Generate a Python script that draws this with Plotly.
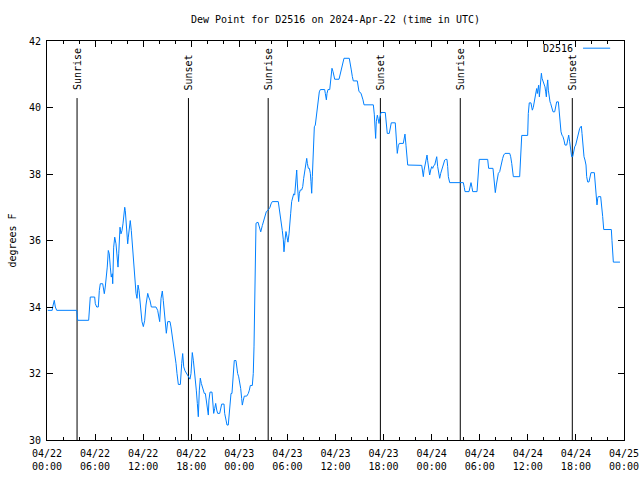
import pandas as pd
import plotly.graph_objects as go

# hours since 2024-04-22 00:00 UTC, dew point (degrees F)
hours = [0.09, 0.65, 0.71, 0.91, 1.04, 1.21, 3.71, 3.83, 5.20, 5.26, 5.40, 5.95, 6.03, 6.20, 6.40, 6.53, 6.65, 6.95, 7.03, 7.15,
         7.27, 7.40, 7.52, 7.65, 7.77, 7.90, 8.02, 8.15, 8.20, 8.32, 8.45, 8.61, 8.73, 8.86, 8.95, 9.02, 9.11, 9.23, 9.36, 9.48,
         9.61, 9.70, 9.77, 9.86, 9.98, 10.07, 10.15, 10.27, 10.39, 10.52, 10.61, 10.69, 10.86, 10.98, 11.11, 11.23, 11.36, 11.48, 11.60, 11.73,
         11.85, 12.02, 12.19, 12.35, 12.57, 12.69, 12.85, 13.02, 13.60, 13.81, 13.94, 14.06, 14.23, 14.39, 14.51, 14.64, 14.76, 14.89, 15.06,
         15.35, 15.47, 15.60, 15.72, 15.85, 15.97, 16.10, 16.22, 16.35, 16.39, 16.64, 16.68, 16.81, 16.93, 17.01, 17.06, 17.22, 17.43, 17.59, 17.84,
         17.97, 18.05, 18.13, 18.26, 18.38, 18.51, 18.63, 18.76, 18.88, 19.01, 19.13, 19.26, 19.38, 19.51, 19.63, 19.76, 19.88, 20.00, 20.13, 20.21,
         20.34, 20.59, 20.67, 20.80, 20.93, 21.05, 21.18, 21.30, 21.55, 21.67, 21.80, 22.09, 22.17, 22.34, 22.46, 22.62, 22.71, 22.84, 22.96, 23.08,
         23.17, 23.25, 23.37, 23.58, 23.67, 23.79, 23.92, 24.04, 24.17, 24.29, 24.37, 24.50, 24.62, 24.92, 25.12, 25.25, 25.37, 25.62, 25.74, 25.83,
         25.92, 25.99, 26.08, 26.33, 26.42, 26.54, 26.67, 26.87, 26.99, 27.12, 27.24, 27.37, 27.62, 27.83, 27.95, 28.11, 28.86, 28.99, 29.11, 29.24,
         29.36, 29.49, 29.57, 29.70, 29.82, 29.95, 30.07, 30.20, 30.32,
         30.41, 30.53, 30.66, 30.78, 30.91, 31.03, 31.16, 31.24, 31.32, 31.40, 31.49, 31.61, 31.78, 31.91, 32.03, 32.16, 32.28, 32.41, 32.49, 32.61,
         32.74, 32.86, 32.94, 33.03, 33.11, 33.23, 33.36, 33.48, 33.61, 33.73, 33.86, 33.98, 34.11, 34.65, 34.73, 34.86, 34.94, 35.06, 35.28, 35.35,
         35.48, 35.56, 35.69, 35.77, 35.90, 36.44, 36.56, 36.69, 36.81, 36.94, 37.06, 37.72, 37.85, 37.97, 38.10, 38.22, 38.72, 38.85, 38.93, 39.18,
         39.31, 39.43, 39.56, 40.72, 40.84, 40.93, 41.01, 41.09, 41.22, 41.31, 41.43, 41.55, 41.68, 42.21, 42.34, 42.46, 42.71, 42.84, 42.96, 43.46,
         43.59, 43.71, 43.84, 43.96, 44.46, 44.55, 44.67, 44.80, 44.92, 45.01,
         46.76, 46.84, 46.96, 47.04, 47.17, 47.29, 47.42, 47.50, 47.63, 47.75, 47.88, 48.00, 48.13, 48.25, 48.38, 48.50, 48.63, 48.75, 48.88, 49.00,
         49.13, 49.25, 49.38, 49.50, 49.63, 49.75, 49.91, 50.00, 50.08, 50.25, 51.95, 52.07, 52.16, 52.66, 52.78, 52.91, 53.03, 53.12, 53.66, 53.74,
         53.82, 53.94, 54.99, 55.11, 55.65, 55.74, 55.86, 55.94, 56.07, 56.19, 56.32, 56.49, 56.61, 56.74, 56.86, 56.99, 57.15, 57.74, 57.86, 57.99,
         58.07, 58.19, 58.98, 59.06, 59.15, 59.24, 59.65,
         59.98, 60.06, 60.18, 60.39, 60.48, 60.56, 60.68, 60.77, 60.89, 61.02, 61.10, 61.18, 61.27, 61.35, 61.44, 61.52, 61.60, 61.69, 61.77, 61.89,
         62.02, 62.14, 62.23, 62.31, 62.39, 62.48, 62.56, 62.64, 62.77, 62.85, 62.98, 63.14, 63.35, 63.48, 63.60, 63.81, 63.89, 64.01, 64.14, 64.26,
         64.39, 64.51, 64.64, 64.85, 64.97, 65.10, 65.22, 65.35, 65.47, 65.60, 65.72, 65.85, 65.97, 66.10, 66.22, 66.35, 66.47, 66.60, 66.68, 66.76,
         66.88, 67.01, 67.13, 67.26, 67.34, 67.47, 67.63, 67.76, 67.88, 68.30, 68.42, 68.51, 68.63, 68.72, 68.79, 69.09, 69.21, 69.34, 69.47, 70.42,
         70.50, 70.59, 70.67, 71.50]

dew_point = [33.9, 33.9, 34.0, 34.2, 34.0, 33.9, 33.9, 33.6, 33.6, 33.8, 34.3, 34.3, 34.1, 34.0, 34.0, 34.5, 34.7, 34.7, 34.5, 34.4,
             34.6, 34.9, 35.2, 35.7, 35.6, 35.2, 34.9, 35.0, 34.7, 35.8, 36.1, 35.9, 35.4, 35.2, 35.6, 36.2, 36.4, 36.2, 36.3, 36.5,
             36.8, 37.0, 36.9, 36.5, 36.3, 35.9, 36.1, 36.4, 36.6, 36.3, 36.0, 35.5, 35.2, 34.81, 34.41, 34.26, 34.66, 34.5, 34.16, 33.86,
             33.56, 33.41, 33.6, 34.06, 34.41, 34.3, 34.2, 34.0, 34.0, 33.9, 33.75, 33.56, 34.26, 34.48, 34.2, 33.81, 33.41, 33.21, 33.56,
             33.56, 33.4, 33.2, 32.96, 32.7, 32.5, 32.3, 32.0, 31.75, 31.67, 31.67, 32.0, 32.3, 32.6, 32.4, 32.2, 32.08, 32.0, 31.92, 31.83,
             32.0, 32.3, 32.63, 32.4, 32.16, 31.9, 31.5, 31.1, 30.7, 31.5, 31.86, 31.7, 31.6, 31.5, 31.4, 31.4, 31.2, 30.9, 30.75, 31.2,
             31.44, 31.44, 31.2, 30.8, 30.95, 31.1, 30.9, 30.8, 30.8, 30.95, 31.08, 31.08, 30.8, 30.6, 30.45, 30.45, 30.8, 31.15, 31.4, 31.4,
             31.8, 32.16, 32.39, 32.39, 32.2, 32.0, 31.9, 31.75, 31.55, 31.25, 31.05, 31.2, 31.32, 31.32, 31.4, 31.5, 31.64, 31.64, 32.0, 32.8,
             34.0, 35.6, 36.52, 36.55, 36.45, 36.35, 36.26, 36.45, 36.55, 36.67, 36.8, 36.87, 36.92, 37.0, 37.1, 37.17, 37.17, 36.97, 36.72, 36.47,
             36.3, 36.02, 35.66, 36.0, 36.27, 36.1, 35.95, 36.2, 36.45,
             36.82, 37.17, 37.32, 37.4, 37.37, 37.82, 38.12, 37.7, 37.42, 37.17, 37.42, 37.52, 37.52, 37.62, 37.87, 38.12, 38.32, 38.47, 38.32, 38.17,
             38.17, 38.02, 37.77, 37.42, 37.92, 38.92, 39.42, 39.47, 39.72, 40.02, 40.27, 40.47, 40.54, 40.54, 40.42, 40.23, 40.42, 40.54, 40.54, 40.73,
             40.93, 41.18, 41.08, 40.98, 40.85, 40.85, 40.98, 41.08, 41.23, 41.38, 41.48, 41.48, 41.33, 41.13, 40.93, 40.8, 40.8, 40.63, 40.48, 40.43,
             40.35, 40.23, 40.08, 40.08, 39.8, 39.32, 39.07, 39.57, 39.77, 39.67, 39.52, 39.72, 39.85, 39.85, 39.57, 39.22, 39.22, 39.42, 39.54, 39.54,
             39.1, 38.62, 38.85, 38.92, 38.92, 39.12, 39.2, 38.85, 38.52, 38.27,
             38.26, 38.05, 37.92, 38.1, 38.3, 38.4, 38.57, 38.4, 38.1, 37.97, 38.12, 38.22, 38.17, 38.25, 38.27, 38.42, 38.52, 38.22, 38.02, 37.87,
             38.02, 38.12, 38.17, 38.32, 38.42, 38.44, 38.44, 38.22, 37.92, 37.74, 37.74, 37.6, 37.47, 37.47, 37.6, 37.74, 37.6, 37.47, 37.47, 37.8,
             38.02, 38.44, 38.44, 38.17, 38.17, 37.97, 37.62, 37.44, 37.67, 37.82, 38.02, 38.07, 38.22, 38.32, 38.47, 38.57, 38.62, 38.62, 38.52, 38.32,
             38.12, 37.92, 37.92, 38.22, 38.82, 39.16, 39.16,
             39.16, 39.82, 40.14, 40.14, 40.0, 39.92, 40.0, 40.1, 40.32, 40.47, 40.57, 40.42, 40.52, 40.67, 40.32, 40.62, 40.88, 41.03, 40.88, 40.78,
             40.73, 40.62, 40.47, 40.32, 40.62, 40.83, 40.52, 40.32, 40.17, 40.12, 39.97, 39.87, 39.87, 40.02, 40.17, 40.17, 39.92, 39.52, 39.27, 39.17,
             39.12, 39.02, 38.87, 38.87, 39.02, 39.17, 38.97, 38.72, 38.52, 38.52, 38.7, 38.82, 38.87, 39.02, 39.17, 39.32, 39.37, 39.42, 39.44, 39.22,
             38.77, 38.52, 38.42, 38.27, 37.92, 37.76, 37.76, 37.92, 38.04, 38.04, 37.67, 37.32, 37.07, 37.27, 37.32, 37.32, 37.07, 36.72, 36.33, 36.33,
             36.0, 35.61, 35.35, 35.35]

sun_hours = [3.75, 17.65, 27.6, 41.6, 51.57, 65.55]
sun_labels = ["Sunrise", "Sunset", "Sunrise", "Sunset", "Sunrise", "Sunset"]

tick_hours = list(range(0, 73, 6))
tick_text = ["04/22<br>00:00", "04/22<br>06:00", "04/22<br>12:00", "04/22<br>18:00",
             "04/23<br>00:00", "04/23<br>06:00", "04/23<br>12:00", "04/23<br>18:00",
             "04/24<br>00:00", "04/24<br>06:00", "04/24<br>12:00", "04/24<br>18:00",
             "04/25<br>00:00"]

start = pd.Timestamp("2024-04-22 00:00")
times = [start + pd.Timedelta(hours=h) for h in hours]
sun_times = [start + pd.Timedelta(hours=h) for h in sun_hours]
tick_times = [start + pd.Timedelta(hours=h) for h in tick_hours]

LINE_COLOR = "rgb(0,128,255)"
FONT = "DejaVu Sans Mono"

fig = go.Figure()
fig.add_trace(go.Scatter(x=times, y=dew_point, mode="lines", name="D2516",
                         line=dict(color=LINE_COLOR, width=1), showlegend=False, hoverinfo="skip"))

for t, lab in zip(sun_times, sun_labels):
    fig.add_shape(type="line", xref="x", yref="paper", x0=t, x1=t, y0=0, y1=0.857,
                  line=dict(color="black", width=1), layer="below")
    fig.add_annotation(x=t, y=0.872, xref="x", yref="paper", text=lab, textangle=-90,
                       showarrow=False, xanchor="center", yanchor="bottom",
                       font=dict(family=FONT, size=10, color="black"))

# legend (text then sample, gnuplot style)
fig.add_annotation(x=0.915, y=0.982, xref="paper", yref="paper", text="D2516", showarrow=False,
                   xanchor="right", yanchor="middle", font=dict(family=FONT, size=10, color="black"))
fig.add_shape(type="line", xref="paper", yref="paper", x0=0.929, x1=0.976, y0=0.982, y1=0.982,
              line=dict(color=LINE_COLOR, width=1))

fig.update_layout(
    width=640, height=480,
    margin=dict(l=47, r=16, t=41, b=40, autoexpand=False),
    paper_bgcolor="white", plot_bgcolor="white",
    font=dict(family=FONT, size=10, color="black"),
    title=dict(text="Dew Point for D2516 on 2024-Apr-22 (time in UTC)", x=0.5, xanchor="center",
               xref="paper", y=0.96, yanchor="middle", font=dict(family=FONT, size=10, color="black")),
    xaxis=dict(type="date", range=[start, start + pd.Timedelta(hours=72)],
               tickvals=tick_times, ticktext=tick_text, automargin=False, ticklabelstandoff=4,
               showline=True, linecolor="black", linewidth=1, mirror="allticks",
               ticks="inside", ticklen=6, tickcolor="black", showgrid=False, zeroline=False,
               minor=dict(ticks="inside", ticklen=3, tickcolor="black", dtick=2 * 3600 * 1000, showgrid=False),
               tickfont=dict(family=FONT, size=10, color="black")),
    yaxis=dict(range=[30, 42], dtick=2, tick0=30, automargin=False, ticklabelstandoff=3,
               showline=True, linecolor="black", linewidth=1, mirror="allticks",
               ticks="inside", ticklen=6, tickcolor="black", showgrid=False, zeroline=False,
               title=dict(text="degrees F", standoff=10, font=dict(family=FONT, size=10, color="black")),
               tickfont=dict(family=FONT, size=10, color="black")),
)

fig.write_html("out.html", config={"displayModeBar": False},
               post_script="document.body.style.margin='0px';document.body.style.overflow='hidden';")
